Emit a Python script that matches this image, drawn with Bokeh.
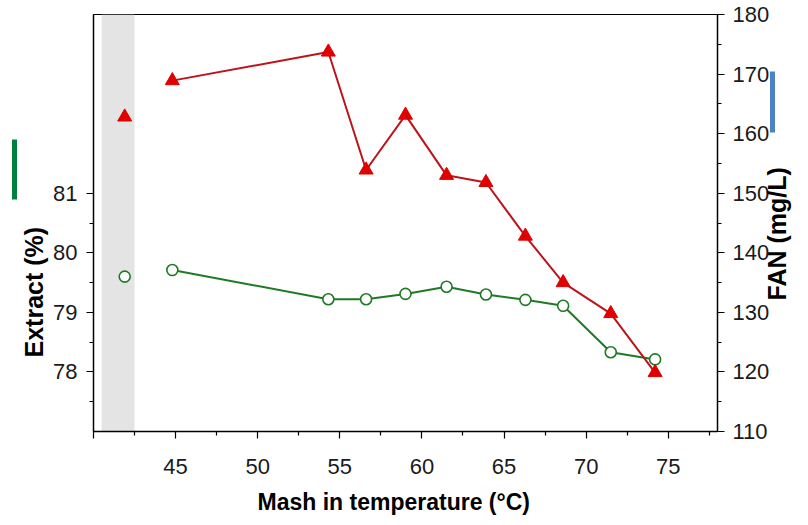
import math
from bokeh.plotting import figure
from bokeh.models import Range1d, LinearAxis, FixedTicker, BoxAnnotation, Title
from bokeh.embed import file_html
from bokeh.resources import INLINE

# ---- data ----
temperature = [41.9, 44.8, 54.3, 56.6, 59.0, 61.5, 63.9, 66.3, 68.6, 71.5, 74.2]
extract_pct = [79.6, 79.71, 79.22, 79.22, 79.31, 79.43, 79.30, 79.21, 79.11, 78.33, 78.21]
fan_mg_l = [162.8, 168.9, 173.7, 153.9, 163.1, 153.0, 151.8, 142.8, 135.0, 129.8, 119.9]
band_range = [40.5, 42.5]

x_major = [40, 45, 50, 55, 60, 65, 70, 75]
x_minor = [42.5, 47.5, 52.5, 57.5, 62.5, 67.5, 72.5, 77.5]
left_major = [78, 79, 80, 81]
left_minor = [77.5, 78.5, 79.5, 80.5]
right_major = [110, 120, 130, 140, 150, 160, 170, 180]
right_minor = [115, 125, 135, 145, 155, 165, 175]

x_title = "Mash in temperature (°C)"
left_title = "Extract (%)"
right_title = "FAN (mg/L)"

GREEN = "#1f7a25"
RED_LINE = "#bd131b"
RED_FILL = "#e00000"
FONT = "Liberation Sans"

p = figure(width=808, height=525, x_range=Range1d(40, 78), y_range=Range1d(77, 84),
           output_backend="svg", toolbar_location=None,
           min_border_left=93, min_border_right=88, min_border_top=14, min_border_bottom=93)
p.extra_y_ranges = {"fan": Range1d(110, 180)}
p.xgrid.visible = False
p.ygrid.visible = False
p.outline_line_color = "black"
p.outline_line_width = 1
p.background_fill_color = "white"
p.border_fill_color = "white"

right_axis = LinearAxis(y_range_name="fan")
p.add_layout(right_axis, "right")

p.xaxis.ticker = FixedTicker(ticks=x_major, minor_ticks=x_minor)
p.xaxis.major_label_overrides = {40: ""}
p.yaxis[0].ticker = FixedTicker(ticks=left_major, minor_ticks=left_minor)
right_axis.ticker = FixedTicker(ticks=right_major, minor_ticks=right_minor)

for ax in [p.xaxis[0], p.yaxis[0], right_axis]:
    ax.axis_line_color = "black"
    ax.axis_line_width = 1.5
    ax.major_tick_line_color = "black"
    ax.minor_tick_line_color = "black"
    ax.major_tick_line_width = 1.2
    ax.minor_tick_line_width = 1.2
    ax.major_tick_in = 0
    ax.minor_tick_in = 0
    ax.major_tick_out = 7
    ax.minor_tick_out = 4
    ax.major_label_text_font = FONT
    ax.major_label_text_font_size = "22px"
    ax.major_label_text_color = "#1a1a1a"
p.xaxis.major_label_standoff = 20
p.yaxis[0].major_label_standoff = 9
right_axis.major_label_standoff = 8

band = BoxAnnotation(left=band_range[0], right=band_range[1], fill_color="#e4e4e4",
                     fill_alpha=1, line_alpha=0, level="underlay")
p.add_layout(band)

p.line(temperature[1:], extract_pct[1:], line_color=GREEN, line_width=2)
p.scatter(temperature, extract_pct, marker="circle", size=11, fill_color="white",
          line_color=GREEN, line_width=1.6)

p.line(temperature[1:], fan_mg_l[1:], y_range_name="fan", line_color=RED_LINE, line_width=2)
p.scatter(temperature, fan_mg_l, y_range_name="fan", marker="triangle", size=14,
          fill_color=RED_FILL, line_color=RED_FILL)

# ---- x title ----
p.add_layout(Title(text=x_title, align="left", offset=164, standoff=21,
                   text_font=FONT, text_font_size="23px", text_font_style="bold",
                   text_color="black"), "below")

# ---- left title + green bar ----
p.add_layout(Title(text=left_title, align="left", offset=74, standoff=6,
                   text_font=FONT, text_font_size="25px", text_font_style="bold",
                   text_color="black"), "left")


def bar_axis(range_name, lo, hi, color, ticks=()):
    kw = {} if range_name is None else {"y_range_name": range_name}
    ax = LinearAxis(bounds=(lo, hi), ticker=FixedTicker(ticks=list(ticks)), **kw)
    ax.axis_line_color = color
    ax.axis_line_width = 5
    ax.major_tick_out = 0
    ax.minor_tick_out = 0
    ax.major_tick_in = 0
    ax.minor_tick_in = 0
    ax.major_tick_line_alpha = 0
    ax.minor_tick_line_alpha = 0
    return ax


green_bar = bar_axis(None, 80.89, 81.91, "#00803e")
green_bar.major_label_text_font_size = "0px"
p.add_layout(green_bar, "left")

# ---- blue bar (axis line) + right title (as a rotated tick label) ----
title_anchor = 132
title_axis = bar_axis("fan", 160.2, 170.5, "#4f81c4", ticks=[title_anchor])
title_axis.major_label_overrides = {title_anchor: right_title}
title_axis.major_label_orientation = math.pi / 2
title_axis.major_label_standoff = 5
title_axis.major_label_text_font = FONT
title_axis.major_label_text_font_size = "25px"
title_axis.major_label_text_font_style = "bold"
title_axis.major_label_text_color = "black"
p.add_layout(title_axis, "right")

open("out.html", "w").write(file_html(p, INLINE))
